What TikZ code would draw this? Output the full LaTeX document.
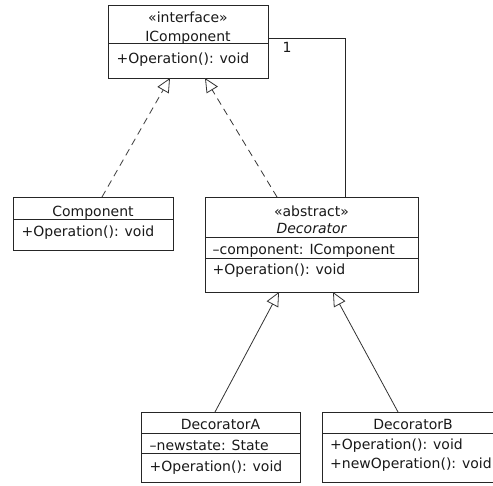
\documentclass[tikz,border=0pt]{standalone}
\usepackage{fontspec}
\setmainfont{DejaVu Sans}
\usetikzlibrary{arrows.meta}
\begin{document}
\begin{tikzpicture}[x=1pt,y=-1pt,
  box/.style={draw=black!85, line width=0.8pt, anchor=north west, inner sep=0pt, outer sep=0pt},
  txt/.style={anchor=base west, inner sep=0pt, font=\fontsize{14}{16}\selectfont, text=black!90},
  ttl/.style={anchor=base, inner sep=0pt, font=\fontsize{14}{16}\selectfont, text=black!90},
  sep/.style={draw=black!85, line width=0.8pt},
  real/.style={draw=black!80, line width=0.8pt, dash pattern=on 7pt off 5pt, -{Triangle[open,length=14pt,width=13pt,fill=white]}},
  gen/.style={draw=black!80, line width=0.8pt, -{Triangle[open,length=14pt,width=13pt,fill=white]}},
  assoc/.style={draw=black!85, line width=0.8pt}
]
\useasboundingbox (0,0) rectangle (493,485);
\fill[white] (0,0) rectangle (493,485);

% IComponent
\node[box, minimum width=160pt, minimum height=73pt] (ic) at (108,5) {};
\draw[sep] (ic.west |- 0,43) -- (ic.east |- 0,43);
\node[ttl] (ic1) at (188,22.5) {«interface»};
\node[ttl] (ic2) at (188,41) {IComponent};
\node[txt] (ic3) at (116.5,63) {+Operation(): void};

% Component
\node[box, minimum width=160pt, minimum height=53pt] (comp) at (13,197) {};
\draw[sep] (comp.west |- 0,219) -- (comp.east |- 0,219);
\node[ttl] (c1) at (93,216) {Component};
\node[txt] (c2) at (21.5,236.5) {+Operation(): void};

% Decorator
\node[box, minimum width=213pt, minimum height=95pt] (dec) at (205,197) {};
\draw[sep] (dec.west |- 0,237) -- (dec.east |- 0,237);
\draw[sep] (dec.west |- 0,258) -- (dec.east |- 0,258);
\node[ttl] (d1) at (311.5,216) {«abstract»};
\node[ttl, font=\fontsize{14}{16}\selectfont\itshape] (d2) at (311.5,233) {Decorator};
\node[txt] (d3) at (212.5,254) {–component: IComponent};
\node[txt] (d4) at (212.5,274) {+Operation(): void};

% DecoratorA
\node[box, minimum width=159pt, minimum height=70pt] (da) at (141,412) {};
\draw[sep] (da.west |- 0,433) -- (da.east |- 0,433);
\draw[sep] (da.west |- 0,453) -- (da.east |- 0,453);
\node[ttl] (a1) at (220.5,429) {DecoratorA};
\node[txt] (a2) at (149.5,450) {–newstate: State};
\node[txt] (a3) at (149.5,471.5) {+Operation(): void};

% DecoratorB
\node[box, minimum width=182pt, minimum height=70pt] (db) at (322,412) {};
\draw[sep] (db.west |- 0,433) -- (db.east |- 0,433);
\node[ttl] (b1) at (413,429) {DecoratorB};
\node[txt] (b2) at (330,449) {+Operation(): void};
\node[txt] (b3) at (330,468) {+newOperation(): void};

% connectors
\draw[real] (102,0 |- comp.north) -- (170,0 |- ic.south);
\draw[real] (277,0 |- dec.north) -- (205,0 |- ic.south);
\draw[gen] (215,0 |- da.north) -- (279,0 |- dec.south);
\draw[gen] (398,0 |- db.north) -- (333,0 |- dec.south);
\coordinate (corner) at (345,38);
\draw[assoc] (ic.east |- corner) -- (corner) -- (345,0 |- dec.north);
\node[ttl] (m1) at (287,52) {1};
\end{tikzpicture}
\end{document}
